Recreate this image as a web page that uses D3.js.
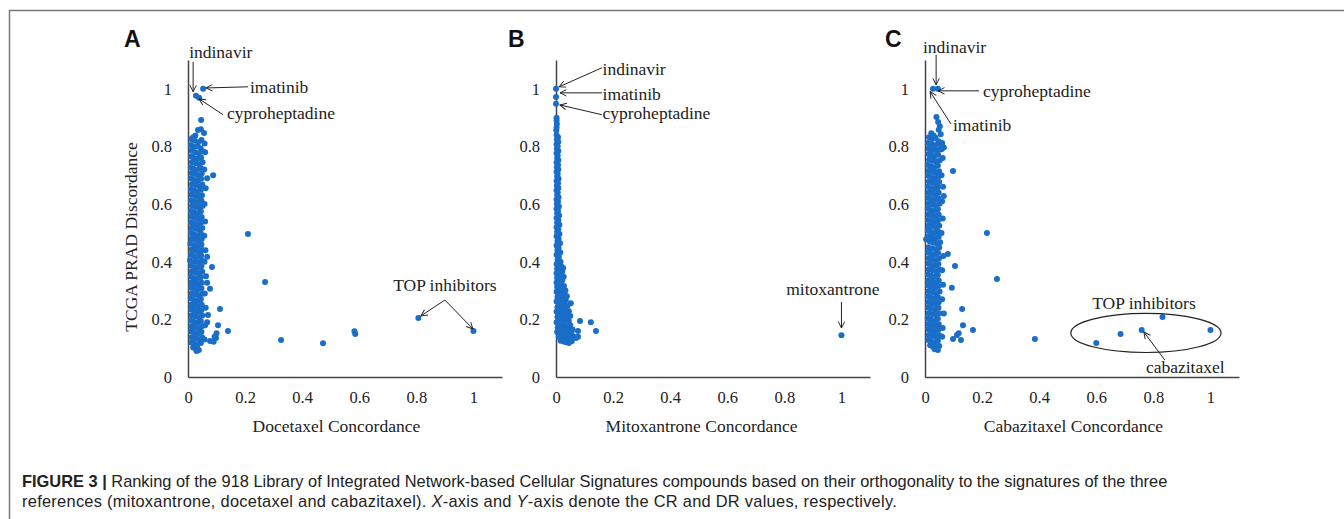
<!DOCTYPE html>
<html>
<head>
<meta charset="utf-8">
<script src="https://cdn.jsdelivr.net/npm/d3@7"></script>
<style>
  body { margin: 0; background: #fff; }
  svg { display: block; }
</style>
</head>
<body>
<svg id="chart"></svg>
<script>
// ---- data ----
const tickValues = [0, 0.2, 0.4, 0.6, 0.8, 1];
const tickLabels = ["0", "0.2", "0.4", "0.6", "0.8", "1"];
const panelLetters = ["A", "B", "C"];
const xTitles = ["Docetaxel Concordance", "Mitoxantrone Concordance", "Cabazitaxel Concordance"];
const yTitle = "TCGA PRAD Discordance";

// [concordance (CR), discordance (DR)] per compound
const docetaxelPts = [
  [0.053, 1.0], [0.028, 0.976], [0.039, 0.969],
  [0.046, 0.892], [0.035, 0.857], [0.045, 0.86], [0.056, 0.847], [0.026, 0.838], [0.018, 0.832],
  [0.012, 0.826], [0.024, 0.82], [0.036, 0.815], [0.047, 0.822],
  [0.010, 0.805], [0.021, 0.798], [0.033, 0.801], [0.044, 0.794],
  [0.013, 0.786], [0.025, 0.78], [0.038, 0.776], [0.05, 0.783],
  [0.011, 0.766], [0.022, 0.76], [0.034, 0.757], [0.046, 0.762],
  [0.014, 0.746], [0.027, 0.742], [0.039, 0.738], [0.051, 0.745],
  [0.010, 0.728], [0.021, 0.722], [0.032, 0.719], [0.044, 0.725],
  [0.013, 0.708], [0.025, 0.704], [0.037, 0.7], [0.048, 0.706],
  [0.011, 0.69], [0.023, 0.684], [0.034, 0.681], [0.046, 0.688],
  [0.014, 0.67], [0.026, 0.666], [0.039, 0.662], [0.05, 0.668],
  [0.010, 0.652], [0.022, 0.647], [0.033, 0.643], [0.045, 0.65],
  [0.012, 0.632], [0.025, 0.628], [0.037, 0.625], [0.049, 0.631],
  [0.011, 0.613], [0.023, 0.609], [0.035, 0.606], [0.047, 0.612],
  [0.014, 0.594], [0.026, 0.59], [0.038, 0.587], [0.051, 0.593],
  [0.010, 0.576], [0.021, 0.571], [0.033, 0.568], [0.045, 0.574],
  [0.012, 0.556], [0.024, 0.552], [0.036, 0.549], [0.048, 0.555],
  [0.011, 0.537], [0.023, 0.533], [0.035, 0.53], [0.046, 0.536],
  [0.013, 0.518], [0.026, 0.514], [0.038, 0.511], [0.05, 0.517],
  [0.010, 0.5], [0.022, 0.495], [0.033, 0.492], [0.045, 0.498],
  [0.012, 0.48], [0.024, 0.476], [0.036, 0.473], [0.048, 0.479],
  [0.008, 0.462], [0.023, 0.457], [0.035, 0.454], [0.047, 0.46],
  [0.013, 0.442], [0.025, 0.438], [0.037, 0.435], [0.05, 0.441],
  [0.011, 0.424], [0.022, 0.419], [0.034, 0.416], [0.046, 0.422],
  [0.007, 0.405], [0.024, 0.4], [0.036, 0.397], [0.049, 0.403],
  [0.012, 0.386], [0.023, 0.381], [0.035, 0.378], [0.047, 0.384],
  [0.013, 0.366], [0.026, 0.362], [0.038, 0.359], [0.05, 0.365],
  [0.010, 0.348], [0.022, 0.343], [0.033, 0.34], [0.045, 0.346],
  [0.012, 0.328], [0.024, 0.324], [0.036, 0.321], [0.048, 0.327],
  [0.011, 0.31], [0.023, 0.305], [0.035, 0.302], [0.047, 0.308],
  [0.013, 0.29], [0.026, 0.286], [0.038, 0.283], [0.051, 0.289],
  [0.010, 0.272], [0.022, 0.267], [0.033, 0.264], [0.045, 0.27],
  [0.012, 0.252], [0.024, 0.248], [0.036, 0.245], [0.048, 0.251],
  [0.011, 0.234], [0.023, 0.229], [0.035, 0.226], [0.047, 0.232],
  [0.013, 0.214], [0.026, 0.21], [0.038, 0.207], [0.05, 0.213],
  [0.010, 0.196], [0.022, 0.191], [0.033, 0.188], [0.045, 0.194],
  [0.012, 0.176], [0.024, 0.172], [0.036, 0.169], [0.048, 0.175],
  [0.011, 0.158], [0.023, 0.153], [0.035, 0.15], [0.047, 0.156],
  [0.013, 0.138], [0.026, 0.134], [0.038, 0.131], [0.05, 0.137],
  [0.012, 0.12], [0.022, 0.115], [0.033, 0.112], [0.045, 0.118],
  [0.018, 0.102], [0.028, 0.097], [0.038, 0.094], [0.03, 0.09],
  [0.058, 0.81], [0.06, 0.78], [0.057, 0.72], [0.062, 0.655], [0.058, 0.6], [0.06, 0.54], [0.057, 0.49],
  [0.061, 0.44], [0.058, 0.4], [0.063, 0.35], [0.059, 0.29], [0.062, 0.24], [0.06, 0.18], [0.058, 0.13],
  [0.067, 0.69], [0.088, 0.70], [0.21, 0.496], [0.27, 0.33], [0.084, 0.382], [0.067, 0.417],
  [0.077, 0.306], [0.067, 0.327], [0.112, 0.236], [0.07, 0.215], [0.067, 0.19], [0.105, 0.18],
  [0.14, 0.16], [0.10, 0.152], [0.093, 0.14], [0.077, 0.125], [0.09, 0.122], [0.098, 0.135],
  [0.326, 0.128], [0.473, 0.117], [0.583, 0.159], [0.586, 0.149], [0.807, 0.205], [1.0, 0.16]
];

const mitoxantronePts = [
  [0, 1.0], [0, 0.972], [0, 0.948],
  [0.002, 0.9], [0.002, 0.89], [0.003, 0.878], [0.002, 0.866], [0.001, 0.856],
  [0.002, 0.84], [0.007, 0.832], [0.003, 0.824], [0.008, 0.816], [0.002, 0.808], [0.006, 0.8],
  [0.003, 0.792], [0.008, 0.784], [0.002, 0.776], [0.006, 0.768], [0.004, 0.76], [0.008, 0.752],
  [0.002, 0.744], [0.007, 0.736], [0.003, 0.728], [0.008, 0.72], [0.002, 0.712], [0.006, 0.704],
  [0.004, 0.696], [0.009, 0.688], [0.002, 0.68], [0.007, 0.672], [0.003, 0.664], [0.008, 0.656],
  [0.002, 0.648], [0.006, 0.64], [0.004, 0.632], [0.009, 0.624], [0.002, 0.616], [0.007, 0.608],
  [0.003, 0.6], [0.01, 0.592], [0.002, 0.584], [0.007, 0.576], [0.004, 0.568], [0.011, 0.56],
  [0.002, 0.552], [0.008, 0.544], [0.004, 0.536], [0.012, 0.528], [0.002, 0.52], [0.008, 0.512],
  [0.004, 0.504], [0.012, 0.496], [0.002, 0.488], [0.009, 0.48], [0.005, 0.472], [0.014, 0.464],
  [0.002, 0.456], [0.009, 0.448], [0.005, 0.44], [0.015, 0.432], [0.002, 0.424], [0.01, 0.416],
  [0.006, 0.408], [0.016, 0.4],
  [0.002, 0.392], [0.01, 0.388], [0.018, 0.384], [0.025, 0.378], [0.004, 0.376], [0.014, 0.37],
  [0.022, 0.366], [0.002, 0.36], [0.009, 0.356], [0.018, 0.352], [0.027, 0.348], [0.004, 0.344],
  [0.013, 0.34], [0.022, 0.336], [0.002, 0.328], [0.009, 0.324], [0.018, 0.32], [0.028, 0.316],
  [0.004, 0.312], [0.014, 0.308], [0.023, 0.304], [0.033, 0.3], [0.002, 0.296], [0.01, 0.292],
  [0.019, 0.288], [0.028, 0.284], [0.038, 0.28], [0.005, 0.278], [0.015, 0.274], [0.024, 0.27],
  [0.034, 0.266], [0.002, 0.262], [0.01, 0.258], [0.02, 0.254], [0.03, 0.25], [0.04, 0.246],
  [0.052, 0.256], [0.035, 0.28], [0.005, 0.242], [0.015, 0.238], [0.025, 0.234], [0.035, 0.23],
  [0.045, 0.228], [0.002, 0.226], [0.01, 0.222], [0.02, 0.218], [0.03, 0.214], [0.04, 0.21],
  [0.05, 0.212], [0.005, 0.208], [0.015, 0.204], [0.025, 0.2], [0.035, 0.196], [0.045, 0.194],
  [0.002, 0.19], [0.01, 0.186], [0.02, 0.182], [0.03, 0.178], [0.04, 0.176], [0.05, 0.18],
  [0.006, 0.172], [0.016, 0.168], [0.026, 0.165], [0.036, 0.162], [0.046, 0.16], [0.058, 0.165],
  [0.004, 0.156], [0.012, 0.152], [0.022, 0.148], [0.032, 0.146], [0.042, 0.144], [0.055, 0.148],
  [0.01, 0.14], [0.02, 0.136], [0.03, 0.133], [0.04, 0.13], [0.05, 0.134], [0.062, 0.14],
  [0.016, 0.126], [0.026, 0.123], [0.036, 0.121], [0.045, 0.118], [0.055, 0.124], [0.07, 0.135],
  [0.084, 0.194], [0.122, 0.19], [0.14, 0.16], [0.077, 0.16], [0.077, 0.14],
  [1.0, 0.145]
];

const cabazitaxelPts = [
  [0.028, 1.0], [0.045, 1.0],
  [0.04, 0.902], [0.046, 0.885], [0.052, 0.87], [0.048, 0.858], [0.055, 0.842], [0.022, 0.846],
  [0.03, 0.838], [0.06, 0.812], [0.066, 0.796], [0.058, 0.79],
  [0.014, 0.832], [0.026, 0.826], [0.037, 0.83], [0.047, 0.818],
  [0.011, 0.812], [0.023, 0.808], [0.035, 0.804], [0.05, 0.81],
  [0.013, 0.793], [0.025, 0.788], [0.038, 0.785], [0.049, 0.79],
  [0.012, 0.774], [0.022, 0.77], [0.034, 0.766], [0.046, 0.772],
  [0.014, 0.754], [0.027, 0.75], [0.039, 0.747], [0.052, 0.752],
  [0.010, 0.736], [0.021, 0.731], [0.033, 0.728], [0.045, 0.734],
  [0.013, 0.716], [0.025, 0.712], [0.037, 0.709], [0.049, 0.714],
  [0.011, 0.698], [0.023, 0.693], [0.035, 0.69], [0.047, 0.696],
  [0.014, 0.678], [0.026, 0.674], [0.038, 0.671], [0.05, 0.677],
  [0.010, 0.66], [0.022, 0.655], [0.033, 0.652], [0.045, 0.658],
  [0.012, 0.64], [0.024, 0.636], [0.036, 0.633], [0.048, 0.639],
  [0.011, 0.621], [0.023, 0.617], [0.035, 0.614], [0.047, 0.62],
  [0.013, 0.602], [0.026, 0.598], [0.038, 0.595], [0.051, 0.601],
  [0.010, 0.584], [0.021, 0.579], [0.033, 0.576], [0.045, 0.582],
  [0.012, 0.564], [0.024, 0.56], [0.036, 0.557], [0.048, 0.563],
  [0.011, 0.545], [0.023, 0.541], [0.035, 0.538], [0.046, 0.544],
  [0.013, 0.526], [0.026, 0.522], [0.038, 0.519], [0.05, 0.525],
  [0.010, 0.508], [0.022, 0.503], [0.033, 0.5], [0.045, 0.506],
  [0.012, 0.488], [0.024, 0.484], [0.036, 0.481], [0.048, 0.487],
  [0.004, 0.478], [0.017, 0.47], [0.029, 0.466], [0.042, 0.463], [0.053, 0.468],
  [0.012, 0.45], [0.025, 0.446], [0.037, 0.443], [0.05, 0.449],
  [0.011, 0.432], [0.022, 0.427], [0.034, 0.424], [0.046, 0.43],
  [0.013, 0.412], [0.024, 0.408], [0.036, 0.405], [0.049, 0.411],
  [0.012, 0.394], [0.023, 0.389], [0.035, 0.386], [0.047, 0.392],
  [0.013, 0.374], [0.026, 0.37], [0.038, 0.367], [0.05, 0.373],
  [0.010, 0.356], [0.022, 0.351], [0.033, 0.348], [0.045, 0.354],
  [0.012, 0.336], [0.024, 0.332], [0.036, 0.329], [0.048, 0.335],
  [0.011, 0.318], [0.023, 0.313], [0.035, 0.31], [0.047, 0.316],
  [0.013, 0.298], [0.026, 0.294], [0.038, 0.291], [0.051, 0.297],
  [0.010, 0.28], [0.022, 0.275], [0.033, 0.272], [0.045, 0.278],
  [0.012, 0.26], [0.024, 0.256], [0.036, 0.253], [0.048, 0.259],
  [0.011, 0.242], [0.023, 0.237], [0.035, 0.234], [0.047, 0.24],
  [0.013, 0.222], [0.026, 0.218], [0.038, 0.215], [0.05, 0.221],
  [0.010, 0.204], [0.022, 0.199], [0.033, 0.196], [0.045, 0.202],
  [0.012, 0.184], [0.024, 0.18], [0.036, 0.177], [0.048, 0.183],
  [0.011, 0.166], [0.023, 0.161], [0.035, 0.158], [0.047, 0.164],
  [0.013, 0.146], [0.026, 0.142], [0.038, 0.139], [0.05, 0.145],
  [0.012, 0.128], [0.022, 0.123], [0.033, 0.12], [0.045, 0.126],
  [0.018, 0.11], [0.028, 0.105], [0.04, 0.102], [0.05, 0.108], [0.045, 0.094], [0.034, 0.096],
  [0.06, 0.8], [0.062, 0.76], [0.058, 0.7], [0.063, 0.66], [0.06, 0.61], [0.062, 0.55], [0.058, 0.5],
  [0.064, 0.42], [0.06, 0.37], [0.063, 0.32], [0.06, 0.27], [0.066, 0.22], [0.062, 0.17], [0.06, 0.14],
  [0.098, 0.715], [0.066, 0.628], [0.217, 0.5], [0.252, 0.34], [0.08, 0.427], [0.105, 0.385],
  [0.094, 0.31], [0.13, 0.236], [0.133, 0.18], [0.168, 0.163], [0.118, 0.152], [0.112, 0.146],
  [0.126, 0.128], [0.098, 0.132], [0.385, 0.132], [0.6, 0.118], [0.685, 0.149], [0.759, 0.163],
  [0.832, 0.208], [1.0, 0.163]
];

// annotations in data units
const docetaxelNotes = [
  { text: "indinavir", x: 0.004, y: 1.108, anchor: "start" },
  { text: "imatinib", x: 0.217, y: 0.986, anchor: "start" },
  { text: "cyproheptadine", x: 0.137, y: 0.896, anchor: "start" },
  { text: "TOP inhibitors", x: 0.9, y: 0.299, anchor: "middle" }
];
const docetaxelArrows = [
  [0.018, 1.094, 0.018, 0.99], [0.21, 1.007, 0.063, 1.003], [0.123, 0.91, 0.039, 0.965],
  [0.9, 0.267, 0.816, 0.212], [0.9, 0.267, 0.998, 0.167]
];
const mitoxantroneNotes = [
  { text: "indinavir", x: 0.163, y: 1.049, anchor: "start" },
  { text: "imatinib", x: 0.163, y: 0.962, anchor: "start" },
  { text: "cyproheptadine", x: 0.163, y: 0.896, anchor: "start" },
  { text: "mitoxantrone", x: 0.97, y: 0.285, anchor: "middle" }
];
const mitoxantroneArrows = [
  [0.161, 1.073, 0.011, 1.007], [0.161, 0.986, 0.014, 0.986], [0.161, 0.91, 0.014, 0.944],
  [1.0, 0.26, 1.0, 0.17]
];
const cabazitaxelNotes = [
  { text: "indinavir", x: -0.007, y: 1.125, anchor: "start" },
  { text: "cyproheptadine", x: 0.203, y: 0.972, anchor: "start" },
  { text: "imatinib", x: 0.098, y: 0.854, anchor: "start" },
  { text: "TOP inhibitors", x: 0.767, y: 0.236, anchor: "middle" },
  { text: "cabazitaxel", x: 0.774, y: 0.014, anchor: "start" }
];
const cabazitaxelArrows = [
  [0.039, 1.118, 0.039, 1.014], [0.189, 0.993, 0.046, 0.993], [0.091, 0.878, 0.018, 0.99],
  [0.84, 0.059, 0.767, 0.156]
];
const cabazitaxelEllipse = { cx: 0.774, cy: 0.153, rx: 0.263, ry: 0.068 };

const captionLine1 = ["FIGURE 3 |", " Ranking of the 918 Library of Integrated Network-based Cellular Signatures compounds based on their orthogonality to the signatures of the three"];
const captionLine2 = ["references (mitoxantrone, docetaxel and cabazitaxel). ", "X", "-axis and ", "Y", "-axis denote the CR and DR values, respectively."];

// ---- layout ----
const W = 1344, H = 519;
const plotTop = 60, plotBottom = 377, plotW = 314;
const serif = '"Liberation Serif", "Times New Roman", serif';
const sans = '"Liberation Sans", Arial, sans-serif';
const dotColor = "#1a6ec8";
const textSize = "17.5px";

const panels = [
  { left: 188, letterX: 124, pts: docetaxelPts, notes: docetaxelNotes, arrows: docetaxelArrows, titleX: 0.52 },
  { left: 556, letterX: 508, pts: mitoxantronePts, notes: mitoxantroneNotes, arrows: mitoxantroneArrows, titleX: 0.51 },
  { left: 925, letterX: 885, pts: cabazitaxelPts, notes: cabazitaxelNotes, arrows: cabazitaxelArrows, titleX: 0.52, ellipse: cabazitaxelEllipse }
];

const svg = d3.select("#chart").attr("width", W).attr("height", H);

svg.append("rect").attr("width", W).attr("height", H).attr("fill", "#fff");

// figure frame
svg.append("path")
  .attr("d", `M9.5,${H} V10.5 H${W}`)
  .attr("fill", "none")
  .attr("stroke", "#777")
  .attr("stroke-width", 1.5);

svg.append("defs").append("marker")
  .attr("id", "arrow")
  .attr("viewBox", "0 0 10 10")
  .attr("refX", 9).attr("refY", 5)
  .attr("markerWidth", 8).attr("markerHeight", 8)
  .attr("markerUnits", "userSpaceOnUse")
  .attr("orient", "auto")
  .append("path")
  .attr("d", "M1,1 L9,5 L1,9")
  .attr("fill", "none")
  .attr("stroke", "#222")
  .attr("stroke-width", 1.2);

const yScale = d3.scaleLinear().domain([0, 1.1]).range([plotBottom, plotTop]);

panels.forEach(function(p, i) {
  const x = d3.scaleLinear().domain([0, 1.1]).range([p.left, p.left + plotW]);
  const g = svg.append("g");

  // axes
  const xAxis = g.append("g")
    .attr("transform", `translate(0,${plotBottom})`)
    .call(d3.axisBottom(x).tickValues(tickValues).tickFormat((d, j) => tickLabels[j]).tickSize(0).tickSizeOuter(0).tickPadding(14));
  const yAxis = g.append("g")
    .attr("transform", `translate(${p.left},0)`)
    .call(d3.axisLeft(yScale).tickValues(tickValues).tickFormat((d, j) => tickLabels[j]).tickSize(0).tickSizeOuter(0).tickPadding(16));

  [xAxis, yAxis].forEach(function(a) {
    a.select(".domain").attr("stroke", "#444").attr("stroke-width", 1.5);
    a.selectAll(".tick text")
      .style("font-family", serif)
      .style("font-size", "16.5px")
      .attr("fill", "#222");
  });

  // points
  g.append("g").selectAll("circle")
    .data(p.pts)
    .join("circle")
    .attr("cx", d => x(d[0]))
    .attr("cy", d => yScale(d[1]))
    .attr("r", 3)
    .attr("fill", dotColor);

  // ellipse around top inhibitors
  if (p.ellipse) {
    g.append("ellipse")
      .attr("cx", x(p.ellipse.cx))
      .attr("cy", yScale(p.ellipse.cy))
      .attr("rx", x(p.ellipse.rx) - x(0))
      .attr("ry", yScale(0) - yScale(p.ellipse.ry))
      .attr("fill", "none")
      .attr("stroke", "#222")
      .attr("stroke-width", 1.2);
  }

  // arrows
  g.append("g").selectAll("line")
    .data(p.arrows)
    .join("line")
    .attr("x1", d => x(d[0])).attr("y1", d => yScale(d[1]))
    .attr("x2", d => x(d[2])).attr("y2", d => yScale(d[3]))
    .attr("stroke", "#222")
    .attr("stroke-width", 1)
    .attr("marker-end", "url(#arrow)");

  // annotation labels
  g.append("g").selectAll("text")
    .data(p.notes)
    .join("text")
    .attr("x", d => x(d.x))
    .attr("y", d => yScale(d.y))
    .attr("text-anchor", d => d.anchor)
    .style("font-family", serif)
    .style("font-size", textSize)
    .attr("fill", "#222")
    .text(d => d.text);

  // axis title
  g.append("text")
    .attr("x", x(p.titleX))
    .attr("y", 432)
    .attr("text-anchor", "middle")
    .style("font-family", serif)
    .style("font-size", textSize)
    .attr("fill", "#222")
    .text(xTitles[i]);

  // panel letter
  g.append("text")
    .attr("x", p.letterX)
    .attr("y", 47)
    .style("font-family", sans)
    .style("font-weight", "bold")
    .style("font-size", "23px")
    .attr("fill", "#111")
    .text(panelLetters[i]);
});

// y axis title (panel A only)
svg.append("text")
  .attr("transform", `translate(137,${yScale(0.486)}) rotate(-90)`)
  .attr("text-anchor", "middle")
  .style("font-family", serif)
  .style("font-size", textSize)
  .attr("fill", "#222")
  .text(yTitle);

// caption
const cap1 = svg.append("text")
  .attr("x", 22).attr("y", 487)
  .style("font-family", sans)
  .style("font-size", "16.4px")
  .attr("fill", "#222");
cap1.append("tspan").style("font-weight", "bold").text(captionLine1[0]);
cap1.append("tspan").text(captionLine1[1]);

const cap2 = svg.append("text")
  .attr("x", 22).attr("y", 507)
  .style("font-family", sans)
  .style("font-size", "16.4px")
  .attr("fill", "#222");
captionLine2.forEach(function(s, j) {
  cap2.append("tspan").style("font-style", j === 1 || j === 3 ? "italic" : "normal").text(s);
});
// second caption line runs a little wider in the original
const cap2Len = cap2.node().getComputedTextLength();
const cap2Chars = captionLine2.join("").length;
cap2.style("letter-spacing", Math.max(0, (875 - cap2Len) / cap2Chars) + "px");
</script>
</body>
</html>
